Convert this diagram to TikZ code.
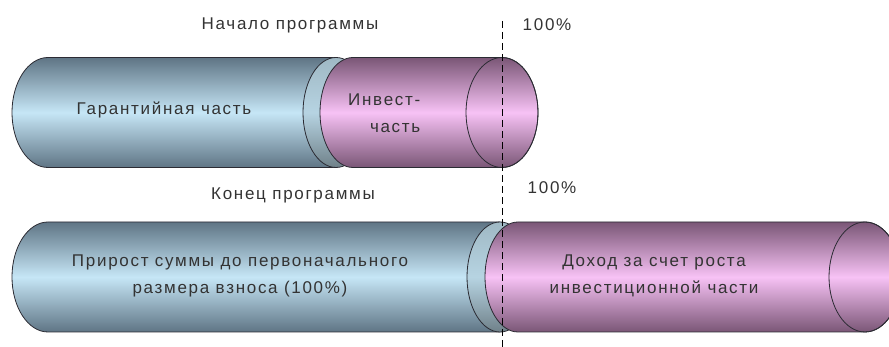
\documentclass[tikz,border=0pt]{standalone}
\usepackage{fontspec}
\setmainfont{Liberation Sans}
\newfontfamily\labelfont[LetterSpace=10]{Liberation Sans}
\usetikzlibrary{positioning}
\definecolor{cdark}{HTML}{2B2B33}
\definecolor{ctext}{HTML}{333333}
\definecolor{bedge}{HTML}{5F7585}
\definecolor{bmid}{HTML}{C6E6F6}
\definecolor{bface}{HTML}{9FB8C4}
\definecolor{pedge}{HTML}{7A5676}
\definecolor{pmid}{HTML}{F7C2F5}
\tikzset{
  every picture/.style={line width=0.8pt},
  bluepart/.style={draw=cdark, top color=bedge, bottom color=bedge, middle color=bmid},
  pinkpart/.style={draw=cdark, top color=pedge, bottom color=pedge, middle color=pmid},
  endface/.style={draw=cdark, top color=bface, bottom color=bface!70!black, middle color=bmid!60!bface},
  txt/.style={font=\labelfont\fontsize{17}{27}\selectfont, text=ctext, align=center},
  cut/.style={draw=black, line width=1pt, dash pattern=on 7pt off 4pt},
}

\begin{document}
\begin{tikzpicture}[x=1pt, y=1pt]
  \useasboundingbox (0,0) rectangle (889,347);
  % two rows: centre y / end of blue / start of pink / end of pink
  \foreach \yc/\be/\ps/\pe in {234.5/336/353/502, 70/500/518/865} {
    \path[bluepart] (48,\yc+55) -- (\be,\yc+55) -- (\be,\yc-55) -- (48,\yc-55)
      arc[start angle=270, end angle=90, x radius=36, y radius=55] -- cycle;
    \draw[endface] (\be,\yc) ellipse[x radius=33, y radius=55];
    \path[pinkpart] (\ps,\yc+55) -- (\pe,\yc+55)
      arc[start angle=90, end angle=-90, x radius=36, y radius=55] -- (\ps,\yc-55)
      arc[start angle=270, end angle=90, x radius=33, y radius=55] -- cycle;
    \draw[cdark] (\pe,\yc) ellipse[x radius=36, y radius=55];
  }
  \coordinate (mark top) at (502,326);
  \coordinate (mark bottom) at (502,0);
  \draw[cut] (mark top) -- (mark bottom);

  \node[txt] (start) at (290,322) {Начало программы};
  \node[txt] (full1) at (547,322) {100\%};
  \node[txt] (guar) at (164,237) {Гарантийная часть};
  \node[txt, align=right, anchor=east] (inv) at (424,234) {Инвест-\\часть};
  \node[txt] (finish) at (293,152) {Конец программы};
  \node[txt] (full2) at (552,159) {100\%};
  \node[txt] (growth) at (240,71) {Прирост суммы до первоначального\\размера взноса (100\%)};
  \node[txt] (income) at (654,71) {Доход за счет роста\\инвестиционной части};
\end{tikzpicture}
\end{document}
